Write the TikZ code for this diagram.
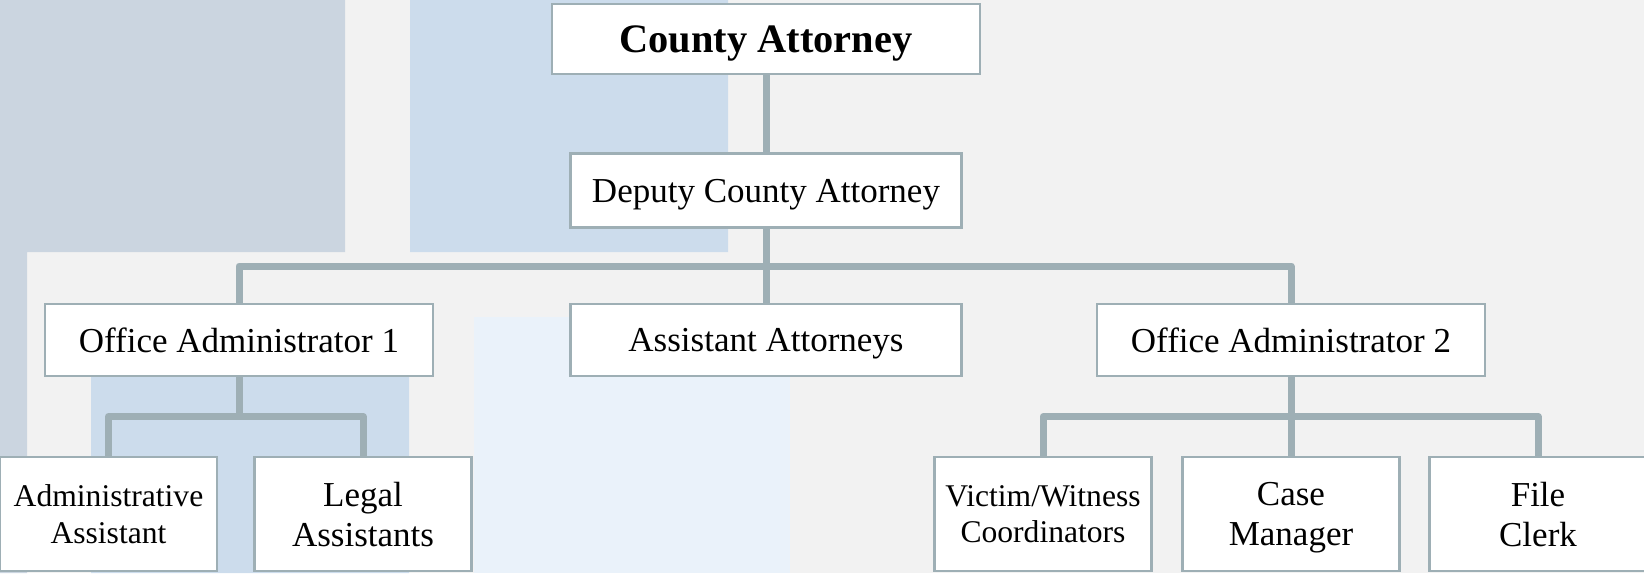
\documentclass[tikz,border=0pt]{standalone}
\usepackage{fontspec}
\setmainfont{Liberation Serif}
\definecolor{pagebg}{RGB}{242,242,242}
\definecolor{slate}{RGB}{203,213,224}
\definecolor{paleblue}{RGB}{204,220,236}
\definecolor{mistblue}{RGB}{234,242,250}
\definecolor{linkgray}{RGB}{158,175,181}
\begin{document}
\begin{tikzpicture}[x=.5pt,y=-.5pt,
  post/.style={draw=linkgray,line width=1.25pt,fill=white,inner sep=0pt,outer sep=0pt,
    align=center,text depth=0pt,font=\fontsize{17.5}{20}\selectfont},
  midpost/.style={post,minimum width=194pt,minimum height=36pt},
  staff/.style={post,minimum width=108.5pt,minimum height=57pt},
  staffsm/.style={staff,font=\fontsize{15.8}{18.3}\selectfont},
  link/.style={draw=linkgray,line width=3.5pt,line join=round}]
% backdrop
\fill[pagebg] (0,0) rectangle (1644,573);
\fill[slate] (0,0) rectangle (345,252) (0,0) rectangle (27,573);
\fill[paleblue] (410,0) rectangle (728,252) (91,370) rectangle (409,573);
\fill[mistblue] (474,317) rectangle (790,573);
\useasboundingbox (0,0) rectangle (1644,573);
% posts
\node[post,font=\bfseries\fontsize{20.2}{24}\selectfont,minimum width=214pt,minimum height=35pt] (ca) at (766,39) {County Attorney};
\node[post,minimum width=195.5pt,minimum height=37pt] (dca) at (766,190.5) {Deputy County Attorney};
\node[midpost] (oa1) at (239,340) {Office Administrator 1};
\node[midpost,minimum width=195.5pt] (aa) at (766,340) {Assistant Attorneys};
\node[midpost] (oa2) at (1291,340) {Office Administrator 2};
\node[staffsm] (adm) at (108.5,514) {Administrative\\Assistant};
\node[staff] (leg) at (363,514) {Legal\\Assistants};
\node[staffsm] (vic) at (1043,514) {Victim/Witness\\Coordinators};
\node[staff] (cas) at (1291,514) {Case\\Manager};
\node[staff] (fil) at (1538,514) {File\\Clerk};
% lines
\coordinate (bus) at (766,266);
\coordinate (bus1) at (239,416.5);
\coordinate (bus2) at (1291,416.5);
\draw[link] (ca) -- (dca);
\draw[link] (dca) -- (aa);
\draw[link] (oa1) |- (bus) -| (oa2);
\draw[link] (oa1) -- (bus1);
\draw[link] (adm) |- (bus1) -| (leg);
\draw[link] (oa2) -- (cas);
\draw[link] (vic) |- (bus2) -| (fil);
\end{tikzpicture}
\end{document}
